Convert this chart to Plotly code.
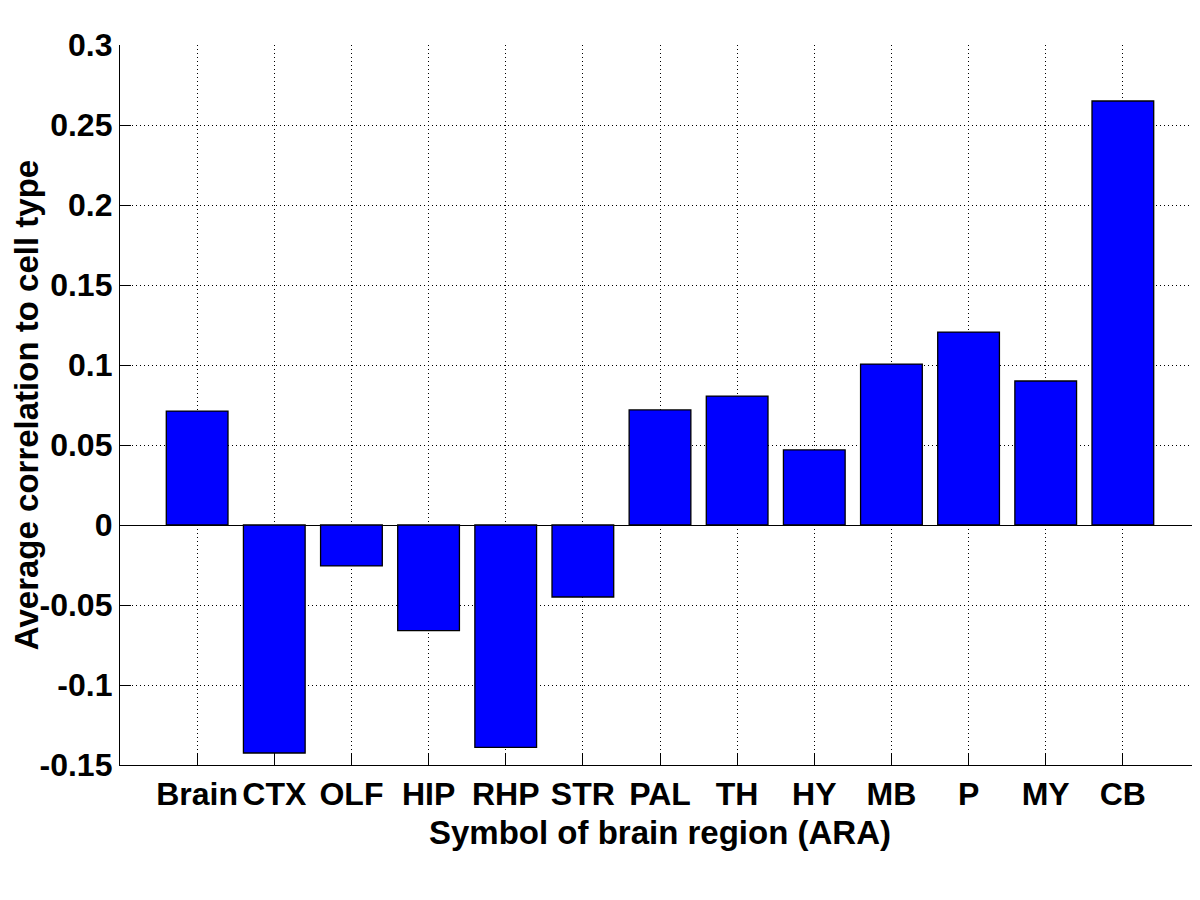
import plotly.graph_objects as go

regions = ["Brain", "CTX", "OLF", "HIP", "RHP", "STR", "PAL", "TH", "HY", "MB", "P", "MY", "CB"]
avg_corr = [0.0712, -0.1425, -0.0256, -0.066, -0.139, -0.045, 0.0719, 0.0806, 0.0469, 0.1006, 0.1206, 0.090, 0.265]

y_ticks = [-0.15, -0.1, -0.05, 0, 0.05, 0.1, 0.15, 0.2, 0.25, 0.3]
y_tick_text = ["-0.15", "-0.1", "-0.05", "0", "0.05", "0.1", "0.15", "0.2", "0.25", "0.3"]

FONT = "Liberation Sans, Arial, sans-serif"

fig = go.Figure()
fig.add_trace(go.Bar(
    x=regions, y=avg_corr, width=0.8,
    marker=dict(color="#0000ff", line=dict(color="black", width=1.3)),
))

# page body has an 8px default margin; compensate so the plot area lands at 120..1198 x 45..765
fig.update_layout(
    width=1200, height=900,
    paper_bgcolor="white", plot_bgcolor="white",
    margin=dict(l=112, r=8, t=37, b=143, autoexpand=False),
    showlegend=False,
    font=dict(family=FONT, size=32, color="black", weight="bold"),
)
fig.update_xaxes(
    type="category", range=[-1, 13], automargin=False,
    showline=True, linecolor="black", linewidth=1.3, mirror=False,
    ticks="inside", ticklen=11, tickwidth=1.3, tickcolor="black",
    showgrid=True, gridcolor="black", gridwidth=1, griddash="1px,3px",
    tickfont=dict(family=FONT, size=32, color="black", weight="bold"),
    title=dict(text="Symbol of brain region (ARA)", standoff=10,
               font=dict(family=FONT, size=33, color="black", weight="bold")),
)
fig.update_yaxes(
    range=[-0.15, 0.3], tickvals=y_ticks, ticktext=y_tick_text, automargin=False,
    showline=True, linecolor="black", linewidth=1.3, mirror=False,
    ticks="inside", ticklen=11, tickwidth=1.3, tickcolor="black",
    showgrid=True, gridcolor="black", gridwidth=1, griddash="1px,3px",
    zeroline=True, zerolinecolor="black", zerolinewidth=1.3,
    tickfont=dict(family=FONT, size=32, color="black", weight="bold"),
    title=dict(text="Average correlation to cell type", standoff=12,
               font=dict(family=FONT, size=33, color="black", weight="bold")),
)

fig.write_html("out.html")
